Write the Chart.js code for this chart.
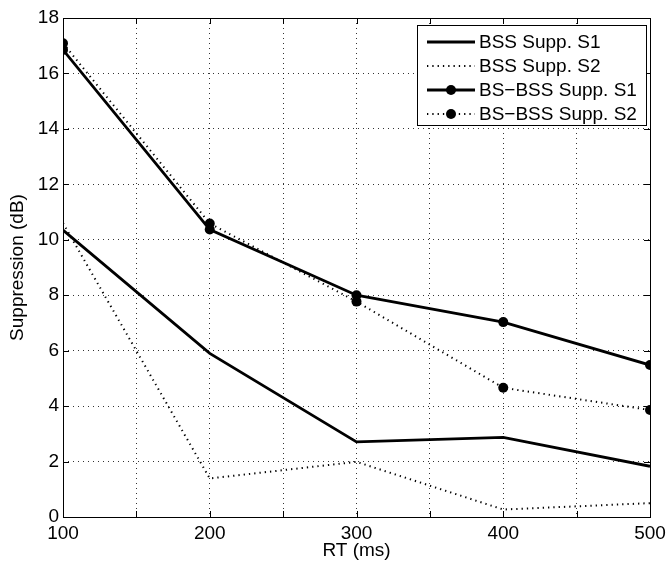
<!DOCTYPE html>
<html>
<head>
<meta charset="utf-8">
<script src="https://cdn.jsdelivr.net/npm/chart.js@4/dist/chart.umd.min.js"></script>
<style>
  html, body { margin: 0; padding: 0; background: #fff; }
  #wrap { width: 667px; height: 563px; position: relative; }
</style>
</head>
<body>
<div id="wrap"><canvas id="grafico"></canvas></div>
<script>
// datos
const rtValores = [100, 200, 300, 400, 500];
const bssS1 = [10.35, 5.9, 2.71, 2.87, 1.83];
const bssS2 = [10.6, 1.39, 1.99, 0.27, 0.5];
const bsbssS1 = [16.85, 10.37, 8.0, 7.03, 5.48];
const bsbssS2 = [17.09, 10.59, 7.77, 4.66, 3.86];
const etiquetas = ['BSS Supp. S1', 'BSS Supp. S2', 'BS\u2212BSS Supp. S1', 'BS\u2212BSS Supp. S2'];

const FUENTE = '"Liberation Sans", Arial, Helvetica, sans-serif';

function puntos(ys) {
    return rtValores.map((x, i) => ({ x: x, y: ys[i] }));
}

// ==================== MARCO, TICKS INTERNOS Y LEYENDA ====================
const marcoPlugin = {
    id: 'marco',
    afterDraw(chart) {
        const ctx = chart.ctx;
        const a = chart.chartArea;
        const sx = chart.scales.x, sy = chart.scales.y;
        ctx.save();
        ctx.strokeStyle = '#000';
        ctx.lineWidth = 1;
        ctx.setLineDash([]);
        ctx.beginPath();
        // ticks hacia adentro en los cuatro lados
        sx.ticks.forEach(t => {
            const px = Math.round(sx.getPixelForValue(t.value)) + 0.5;
            ctx.moveTo(px, a.bottom); ctx.lineTo(px, a.bottom - 6);
            ctx.moveTo(px, a.top); ctx.lineTo(px, a.top + 6);
        });
        sy.ticks.forEach(t => {
            const py = Math.round(sy.getPixelForValue(t.value)) + 0.5;
            ctx.moveTo(a.left, py); ctx.lineTo(a.left + 6, py);
            ctx.moveTo(a.right, py); ctx.lineTo(a.right - 6, py);
        });
        ctx.stroke();
        ctx.strokeRect(Math.round(a.left) + 0.5, Math.round(a.top) + 0.5,
            Math.round(a.right - a.left), Math.round(a.bottom - a.top));

        // leyenda dentro del area
        const bx = 417, by = 25, bw = 229, bh = 100;
        ctx.fillStyle = '#fff';
        ctx.fillRect(bx, by, bw, bh);
        ctx.strokeRect(bx + 0.5, by + 0.5, bw, bh);
        ctx.font = '19px ' + FUENTE;
        ctx.textBaseline = 'middle';
        ctx.textAlign = 'left';
        chart.data.datasets.forEach((ds, i) => {
            const y = by + 17 + i * 24;
            ctx.strokeStyle = '#000';
            ctx.lineWidth = ds.borderWidth;
            ctx.setLineDash(ds.borderDash || []);
            ctx.beginPath();
            ctx.moveTo(427, y);
            ctx.lineTo(475, y);
            ctx.stroke();
            ctx.setLineDash([]);
            if (ds.pointRadius > 0) {
                ctx.fillStyle = '#000';
                ctx.beginPath();
                ctx.arc(451, y, ds.pointRadius, 0, Math.PI * 2);
                ctx.fill();
            }
            ctx.fillStyle = '#000';
            ctx.fillText(ds.label, 479, y + 1);
        });
        ctx.restore();
    }
};

// ==================== CREAR GRAFICO ====================
function crearGrafico() {
    const ctx = document.getElementById('grafico');
    new Chart(ctx, {
        type: 'line',
        data: {
            datasets: [
                { label: etiquetas[0], data: puntos(bssS1), borderColor: '#000', backgroundColor: '#000',
                  borderWidth: 2.8, pointRadius: 0 },
                { label: etiquetas[1], data: puntos(bssS2), borderColor: '#000', backgroundColor: '#000',
                  borderWidth: 2, borderDash: [1.3, 4], pointRadius: 0 },
                { label: etiquetas[2], data: puntos(bsbssS1), borderColor: '#000', backgroundColor: '#000',
                  borderWidth: 2.8, pointRadius: 5, pointBorderWidth: 0 },
                { label: etiquetas[3], data: puntos(bsbssS2), borderColor: '#000', backgroundColor: '#000',
                  borderWidth: 2, borderDash: [1.3, 4], pointRadius: 5, pointBorderWidth: 0 }
            ]
        },
        options: {
            responsive: true,
            maintainAspectRatio: false,
            animation: false,
            layout: { padding: { top: 18, right: 17, left: 0, bottom: 0 } },
            plugins: {
                legend: { display: false },
                tooltip: { enabled: false }
            },
            scales: {
                x: {
                    type: 'linear',
                    min: 100,
                    max: 500,
                    afterFit: s => { s.height = 46; s.paddingRight = 0; s.paddingLeft = 0; },
                    ticks: {
                        stepSize: 50,
                        autoSkip: false,
                        maxRotation: 0,
                        padding: 5,
                        color: '#000',
                        font: { family: FUENTE, size: 19 },
                        callback: v => (v % 100 === 0 ? String(v) : '')
                    },
                    grid: {
                        color: '#000',
                        lineWidth: 0.8,
                        drawTicks: false
                    },
                    border: { display: false, dash: [1, 4] },
                    title: {
                        display: true,
                        text: 'RT (ms)',
                        color: '#000',
                        font: { family: FUENTE, size: 19, lineHeight: 1 },
                        padding: { top: 0, bottom: 3 }
                    }
                },
                y: {
                    min: 0,
                    max: 18,
                    afterFit: s => { s.width = 63; s.paddingTop = 0; s.paddingBottom = 0; },
                    ticks: {
                        stepSize: 2,
                        padding: 4,
                        color: '#000',
                        font: { family: FUENTE, size: 19 }
                    },
                    grid: {
                        color: '#000',
                        lineWidth: 0.8,
                        drawTicks: false
                    },
                    border: { display: false, dash: [1, 4] },
                    title: {
                        display: true,
                        text: 'Suppression (dB)',
                        color: '#000',
                        font: { family: FUENTE, size: 19, lineHeight: 1 },
                        padding: { top: 8, bottom: 0 }
                    }
                }
            }
        },
        plugins: [marcoPlugin]
    });
}

crearGrafico();
</script>
</body>
</html>
